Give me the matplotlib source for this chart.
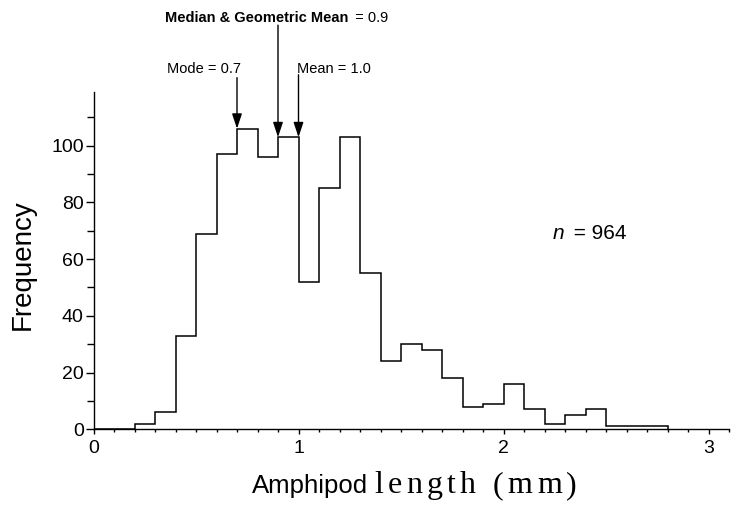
import numpy as np
import matplotlib
matplotlib.use("Agg")
import matplotlib.pyplot as plt
from matplotlib.ticker import MultipleLocator
from matplotlib.font_manager import FontProperties

plt.rcParams['font.family'] = ['Liberation Sans', 'DejaVu Sans']

# Data
bin_edges = np.round(np.arange(0.0, 2.81, 0.1), 1)
counts = [0, 0, 2, 6, 33, 69, 97, 106, 96, 103, 52, 85, 103, 55,
          24, 30, 28, 18, 8, 9, 16, 7, 2, 5, 7, 1, 1, 1]
x_tick_labels = ['0', '1', '2', '3']
y_tick_labels = ['0', '20', '40', '60', '80', '100']
stat_values = [0.7, 0.9, 1.0]
stat_heights = [106, 103, 103]
n_total = 964

W, H = 732, 508
fig = plt.figure(figsize=(W/100, H/100), dpi=100)
ax = fig.add_axes([93.5/W, 1-429.3/H, 635.5/W, (429.3-91.8)/H])

ax.stairs(counts, bin_edges, color='black', lw=1.1)

ax.set_xlim(0, 3.1)
ax.set_ylim(0, 119)
for s in ['top', 'right']:
    ax.spines[s].set_visible(False)
for s in ['left', 'bottom']:
    ax.spines[s].set_linewidth(1.0)

ax.set_xticks([0, 1, 2, 3])
ax.set_xticklabels(x_tick_labels)
ax.xaxis.set_minor_locator(MultipleLocator(0.1))
ax.set_yticks([0, 20, 40, 60, 80, 100])
ax.set_yticklabels(y_tick_labels)
ax.yaxis.set_minor_locator(MultipleLocator(10))
ax.tick_params(which='both', direction='out', labelsize=14, width=1.0)
ax.tick_params(axis='x', which='major', length=3.5, pad=4)
ax.tick_params(axis='x', which='minor', length=2.5)
ax.tick_params(axis='y', which='major', length=6, pad=1)
ax.tick_params(axis='y', which='minor', length=5)

renderer = fig.canvas.get_renderer()


def spaced_text(x_left, x_right, y_base, s, size, family):
    """Place text letter-spaced to span x_left..x_right (pixels)."""
    fp = FontProperties(family=family, size=size)
    widths = []
    for ch in s:
        w, _, _ = renderer.get_text_width_height_descent(ch, fp, ismath=False)
        if ch == ' ':
            w = renderer.get_text_width_height_descent('a a', fp, ismath=False)[0] - \
                renderer.get_text_width_height_descent('aa', fp, ismath=False)[0]
        widths.append(w)
    extra = (x_right - x_left - sum(widths)) / max(len(s) - 1, 1)
    x = x_left
    for ch, w in zip(s, widths):
        if ch != ' ':
            fig.text(x / W, 1 - y_base / H, ch, fontproperties=fp,
                     ha='left', va='baseline')
        x += w + extra


# Axis labels
fig.text(23/W, 1-265/H, 'Frequency', rotation=90, fontsize=20,
         ha='center', va='center')
fig.text(368/W, 1-493/H, 'Amphipod', fontsize=18.5, ha='right', va='baseline')
spaced_text(374, 577, 493, 'length (mm)', 23, ['Liberation Serif', 'DejaVu Serif'])

# n label
tn = ax.text(2.24, 67.1, 'n', fontsize=15, style='italic', ha='left', va='baseline')
ax.annotate(' = %d' % n_total, xy=(1, 0), xycoords=tn, xytext=(3, 0),
            textcoords='offset points', fontsize=15, ha='left', va='bottom')

# Annotations
arrow_kw = dict(arrowstyle='-|>,head_length=0.9,head_width=0.3', color='black',
                lw=1.0, shrinkA=0, shrinkB=0)
tail_y = [124, 142.5, 125]
for v, h, ty in zip(stat_values, stat_heights, tail_y):
    ax.annotate('', xy=(v, h), xytext=(v, ty), arrowprops=arrow_kw,
                annotation_clip=False)

ax.text(0.54, 125.8, 'Mode = 0.7', fontsize=10.5, ha='center', va='baseline', clip_on=False)
ax.text(0.995, 125.8, 'Mean = 1.0', fontsize=10.5, ha='left', va='baseline', clip_on=False)
tb = ax.text(0.35, 143.5, 'Median & Geometric Mean', fontsize=10.5, fontweight='bold',
             ha='left', va='baseline', clip_on=False)
ax.annotate(' = 0.9', xy=(1, 0), xycoords=tb, xytext=(2, 0),
            textcoords='offset points', fontsize=10.5, ha='left', va='bottom')

fig.savefig('out.png', dpi=100)
